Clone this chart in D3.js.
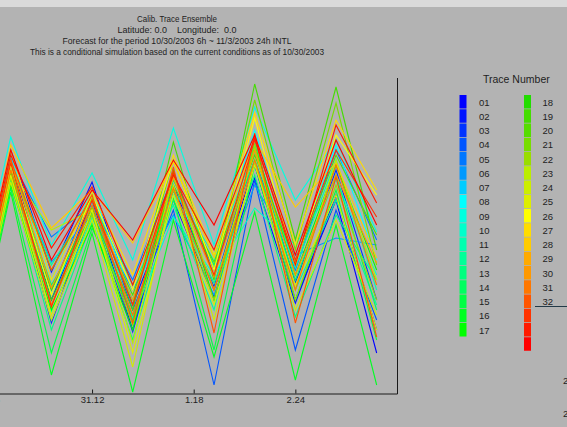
<!DOCTYPE html>
<html><head><meta charset="utf-8">
<script src="https://cdnjs.cloudflare.com/ajax/libs/d3/7.8.5/d3.min.js"></script>
<style>
html,body{margin:0;padding:0;background:#b3b3b3;}
svg{display:block;}
text{font-family:"Liberation Sans",Arial,sans-serif;fill:#1e1e1e;white-space:pre;}
</style></head>
<body>
<svg id="chart" width="567" height="427"></svg>
<script>
// time axis: hours after 10/30 06h
const hours = [0, 6, 18, 30, 42, 54, 66, 78, 90, 102, 114];
const tickHours = [0, 30, 60, 90];
const tickLabels = ["30.6", "31.12", "1.18", "2.24"];
const titleLines = [
  "Calib. Trace Ensemble",
  "Latitude: 0.0    Longitude:  0.0",
  "Forecast for the period 10/30/2003 6h ~ 11/3/2003 24h INTL",
  "This is a conditional simulation based on the current conditions as of 10/30/2003"
];
const legendTitle = "Trace Number";
const legendLabels = ["01","02","03","04","05","06","07","08","09","10","11","12","13","14","15","16","17",
  "18","19","20","21","22","23","24","25","26","27","28","29","30","31","32"];
const palette = ["#0000ff","#0014ff","#0033ff","#0055ff","#0077ff","#0099ff","#00ccff","#00ffff","#00ffe0",
  "#00ffcc","#00ffb0","#00ff99","#00ff80","#00ff60","#00ff44","#00ff22","#00ff00",
  "#22dd00","#44dd00","#55dd00","#77dd00","#99dd00","#bbee00","#ccee00","#ddee00","#ffff00","#ffdd00",
  "#ffcc00","#ffaa00","#ff9900","#ff7700","#ff5500","#ff3300","#ff1a00","#ff0000"];

const trace01 = [138,233,93,193,63,208,103,228,93,193,40];
const trace02 = [153,243,121,211,88,193,96,215,90,198,63];
const trace03 = [131,223,70,183,61,203,106,243,110,223,93];
const trace04 = [123,218,103,198,83,183,8,213,43,183,73];
const trace05 = [143,235,156,188,113,218,123,233,123,243,153];
const trace06 = [128,228,131,178,103,178,98,208,138,155,148];
const trace07 = [148,238,113,203,93,198,133,263,133,248,133];
const trace08 = [165,256,148,220,133,265,148,286,193,253,161];
const trace09 = [135,225,98,188,75,176,118,185,148,213,118];
const trace10 = [121,213,81,175,93,203,138,243,125,233,103];
const trace11 = [145,231,128,193,108,188,83,253,103,193,88];
const trace12 = [125,215,63,171,53,193,110,218,76,178,113];
const trace13 = [138,223,108,178,73,213,128,233,113,218,83];
const trace14 = [113,205,40,165,78,195,43,228,93,203,53];
const trace15 = [108,201,18,160,1,173,36,181,13,168,8];
const trace16 = [118,208,83,168,63,223,93,248,118,228,123];
const trace17 = [133,221,93,181,83,251,113,309,153,306,143];
const trace18 = [128,218,103,185,98,208,131,238,130,238,158];
const trace19 = [143,228,123,195,88,233,123,293,143,290,128];
const trace20 = [123,215,88,178,68,203,93,248,93,208,93];
const trace21 = [131,223,163,183,50,218,103,243,103,233,113];
const trace22 = [115,211,73,173,26,208,73,233,83,173,78];
const trace23 = [125,218,78,183,40,198,88,228,108,198,63];
const trace24 = [138,228,98,198,103,233,123,275,128,258,198];
const trace25 = [153,243,113,201,118,238,138,280,148,273,203];
const trace26 = [148,248,165,203,150,231,135,253,186,230,135];
const trace27 = [135,233,105,193,93,215,116,243,118,218,130];
const trace28 = [128,223,88,188,78,205,103,233,103,228,108];
const trace29 = [143,233,123,198,70,226,60,260,70,216,56];
const trace30 = [138,230,86,193,88,221,118,253,133,243,176];
const trace31 = [148,238,145,206,108,218,143,255,128,268,190];
const trace32 = [153,243,133,203,153,233,168,258,138,253,168];
const traces = [trace01,trace02,trace03,trace04,trace05,trace06,trace07,trace08,trace09,trace10,
  trace11,trace12,trace13,trace14,trace15,trace16,trace17,trace18,trace19,trace20,trace21,trace22,
  trace23,trace24,trace25,trace26,trace27,trace28,trace29,trace30,trace31,trace32];

const svg = d3.select("#chart");
// light band at the top
svg.append("rect").attr("x",0).attr("y",0).attr("width",567).attr("height",7).attr("fill","#dadada");

// titles
const titleLengths = [80, 119, 229, 294];
svg.append("g").selectAll("text").data(titleLines).join("text")
  .attr("x", 177).attr("y", (d,i)=>22 + i*11)
  .attr("text-anchor","middle").attr("font-size", 9.5)
  .attr("xml:space","preserve")
  .attr("textLength", (d,i)=>titleLengths[i]).attr("lengthAdjust","spacingAndGlyphs")
  .text(d=>d);

const x = d3.scaleLinear().domain([0,120]).range([-9.6, 397]);
const y = d3.scaleLinear().domain([0,315]).range([393, 78]);

const line = d3.line().x((d,i)=>x(hours[i])).y(d=>y(d));
const colorOf = i => palette[Math.round(i*34/31)];

svg.append("g").selectAll("path").data(traces).join("path")
  .attr("d", line).attr("fill","none")
  .attr("stroke",(d,i)=>colorOf(i)).attr("stroke-width",1.1)
  .attr("stroke-linejoin","miter");

// axes
const xAxis = d3.axisBottom(x).tickValues(tickHours).tickFormat((d,i)=>tickLabels[i])
  .tickSizeInner(-4).tickSizeOuter(0).tickPadding(3);
const gx = svg.append("g").attr("transform","translate(0,393.5)").call(xAxis);
gx.select(".domain").attr("stroke","#1a1a1a");
gx.selectAll(".tick line").attr("stroke","#1a1a1a");
gx.selectAll("text").attr("font-size",9.5).attr("fill","#1e1e1e").attr("font-family","Liberation Sans, Arial, sans-serif");
svg.append("line").attr("x1",397.5).attr("x2",397.5).attr("y1",78).attr("y2",394)
  .attr("stroke","#1a1a1a");

// legend
svg.append("text").attr("x",483).attr("y",83).attr("font-size",10.5).text(legendTitle);
const sw = svg.append("g");
palette.forEach((c,i)=>{
  const col = i < 17 ? 0 : 1;
  const row = i < 17 ? i : i-17;
  sw.append("rect").attr("x", col ? 524 : 459.5).attr("y", 95 + row*14.25)
    .attr("width",7).attr("height",13.5).attr("fill",c);
});
legendLabels.forEach((t,i)=>{
  const col = i < 17 ? 0 : 1;
  const row = i < 17 ? i : i-17;
  sw.append("text").attr("x", col ? 542.5 : 479).attr("y", 95 + row*14.25 + 10.5)
    .attr("font-size",9.5).text(t);
});
// fragments of a neighbouring panel at the right edge
svg.append("line").attr("x1",535).attr("x2",567).attr("y1",306.5).attr("y2",306.5).attr("stroke","#233a48");
svg.append("text").attr("x",563).attr("y",384).attr("font-size",9.5).text("2");
svg.append("text").attr("x",563).attr("y",417).attr("font-size",9.5).text("2");
</script>
</body></html>
